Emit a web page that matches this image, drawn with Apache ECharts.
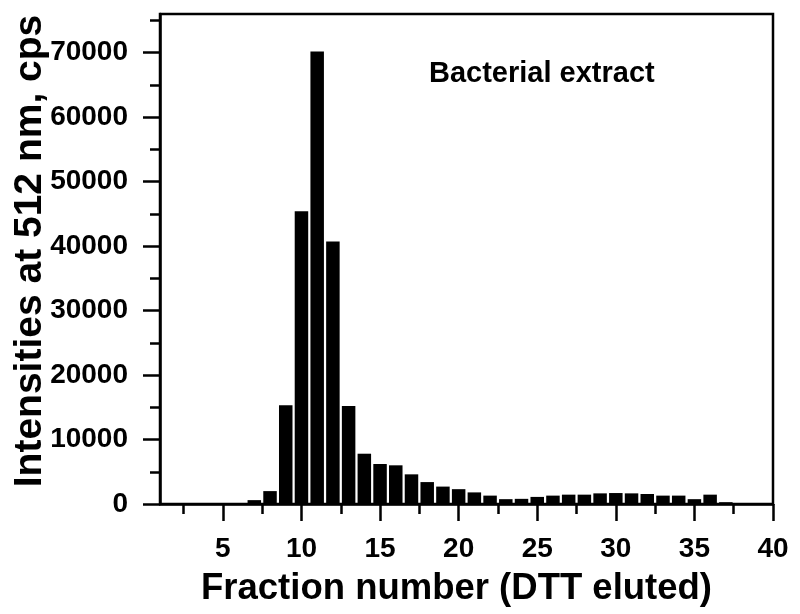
<!DOCTYPE html>
<html>
<head>
<meta charset="utf-8">
<script src="https://cdn.jsdelivr.net/npm/echarts@6/dist/echarts.min.js"></script>
<style>
html,body{margin:0;padding:0;background:#fff;}
#chart{width:800px;height:614px;}
</style>
</head>
<body>
<div id="chart"></div>
<script>
// Fraction numbers and intensities (cps)
const fractions = [5, 6, 7, 8, 9, 10, 11, 12, 13, 14, 15, 16, 17, 18, 19, 20, 21,
  22, 23, 24, 25, 26, 27, 28, 29, 30, 31, 32, 33, 34, 35, 36, 37];
const intensities = [150, 0, 600, 2000, 15300, 45400, 70200, 40700, 15200, 7800, 6200, 6000, 4600,
  3400, 2700, 2300, 1800, 1300, 750, 800, 1100, 1300, 1450, 1450, 1650, 1700, 1650,
  1550, 1300, 1300, 750, 1450, 280];

const xMajorTicks = [5, 10, 15, 20, 25, 30, 35, 40];
const xMinorTicks = [2.5, 7.5, 12.5, 17.5, 22.5, 27.5, 32.5, 37.5];
const yMajorTicks = [0, 10000, 20000, 30000, 40000, 50000, 60000, 70000];
const yMinorTicks = [5000, 15000, 25000, 35000, 45000, 55000, 65000, 75000];

const xTitle = 'Fraction number (DTT eluted)';
const yTitle = 'Intensities at 512 nm, cps';
const annotation = 'Bacterial extract';

const FONT = 'Liberation Sans';
const chart = echarts.init(document.getElementById('chart'), null, {renderer: 'canvas'});

const axisLineStyle = {color: '#000', width: 2.5};

chart.setOption({
  animation: false,
  backgroundColor: '#fff',
  grid: {
    left: 160, right: 27, top: 14, bottom: 110,
    containLabel: false, outerBoundsMode: 'none',
    show: true, borderColor: '#000', borderWidth: 2.5, backgroundColor: 'transparent'
  },
  graphic: [{
    type: 'text', left: 429, top: 59,
    style: {text: annotation, font: 'bold 29px "' + FONT + '"', fill: '#000'}
  }],
  xAxis: [{
    type: 'value', min: 1, max: 40,
    axisLine: {show: true, lineStyle: axisLineStyle},
    axisTick: {show: true, customValues: xMajorTicks, length: 17, lineStyle: {color: '#000', width: 2.5}},
    axisLabel: {customValues: xMajorTicks, margin: 31, color: '#000',
      fontFamily: FONT, fontWeight: 'bold', fontSize: 28},
    splitLine: {show: false},
    name: xTitle, nameLocation: 'middle', nameGap: 66, nameMoveOverlap: false,
    nameTextStyle: {color: '#000', fontFamily: FONT, fontWeight: 'bold', fontSize: 36.5, padding: [0, 20, 0, 0]}
  }, {
    type: 'value', min: 1, max: 40, position: 'bottom',
    axisLine: {show: false},
    axisTick: {show: true, customValues: xMinorTicks, length: 10, lineStyle: {color: '#000', width: 2.5}},
    axisLabel: {show: false},
    splitLine: {show: false}
  }],
  yAxis: [{
    type: 'value', min: 0, max: 76000,
    axisLine: {show: true, lineStyle: axisLineStyle},
    axisTick: {show: true, customValues: yMajorTicks, length: 17, lineStyle: {color: '#000', width: 2.5}},
    axisLabel: {customValues: yMajorTicks, margin: 32, color: '#000',
      fontFamily: FONT, fontWeight: 'bold', fontSize: 28,
      formatter: function (v) { return String(v); }},
    splitLine: {show: false},
    name: yTitle, nameLocation: 'middle', nameGap: 110, nameRotate: 90, nameMoveOverlap: false,
    nameTextStyle: {color: '#000', fontFamily: FONT, fontWeight: 'bold', fontSize: 39, padding: [0, 0, 0, 16]}
  }, {
    type: 'value', min: 0, max: 76000, position: 'left',
    axisLine: {show: false},
    axisTick: {show: true, customValues: yMinorTicks, length: 10, lineStyle: {color: '#000', width: 2.5}},
    axisLabel: {show: false},
    splitLine: {show: false}
  }],
  series: [{
    type: 'bar',
    xAxisIndex: 0, yAxisIndex: 0,
    barWidth: 13.5,
    itemStyle: {color: '#000'},
    data: fractions.map((f, i) => [f, intensities[i]])
  }]
});
</script>
</body>
</html>
